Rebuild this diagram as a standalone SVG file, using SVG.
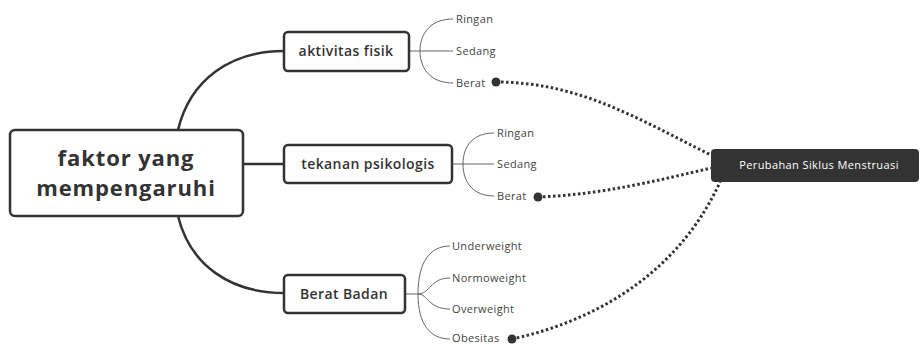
<svg xmlns="http://www.w3.org/2000/svg" width="921" height="345" viewBox="0 0 921 345">
<defs>
<style>
.box{fill:#fff;stroke:#333;stroke-width:2.5}
.main{stroke:#333;stroke-width:2.5;fill:none}
.br{stroke:#666;stroke-width:1;fill:none}
.dot{stroke:#333;stroke-width:3;fill:none;stroke-dasharray:2.5 2.5}
.t1{font-family:"Open Sans","Noto Sans",sans-serif;font-weight:700;font-size:22px;letter-spacing:0.9px;fill:#333;text-anchor:middle}
.t2{font-family:"Open Sans","Noto Sans",sans-serif;font-weight:600;font-size:14px;letter-spacing:0.4px;fill:#333;text-anchor:middle}
.t3{font-family:"Open Sans","Noto Sans",sans-serif;font-size:11px;letter-spacing:0.35px;fill:#444}
.t4{font-family:"Open Sans","Noto Sans",sans-serif;font-size:11px;letter-spacing:0.4px;fill:#fff;text-anchor:middle}
</style>
</defs>
<rect width="921" height="345" fill="#fff"/>
<g id="connectors">
<path class="main" d="M178,130 C190,80 230,51 284,51"/>
<path class="main" d="M243,164 L284,164"/>
<path class="main" d="M178,216 C190,265 230,293 284,293"/>
<path class="br" d="M409,51 L453,51 M420,51 C420,32 432,19 453,19 M420,51 C420,70 432,83 453,83"/>
<path class="br" d="M452,164 L494,164 M463,164 C463,145 474,133 494,133 M463,164 C463,183 474,196 494,196"/>
<path class="br" d="M405,294 L418,294 C430,294 430,278 450,278 M418,294 C428,294 428,309 450,309 M418,294 C418,262 430,246 450,246 M418,294 C418,324 430,339 450,339"/>
<path class="dot" d="M496,82 C580,82 640,120 711,155"/>
<path class="dot" d="M538,197 C600,195 660,180 711,168"/>
<path class="dot" d="M512,339 C600,320 680,270 720,182"/>
<circle cx="496" cy="82" r="4.5" fill="#333"/>
<circle cx="538" cy="197" r="4.5" fill="#333"/>
<circle cx="512" cy="339" r="4.5" fill="#333"/>
</g>
<g id="n-main">
<rect class="box" x="10" y="130" width="233" height="86" rx="5"/>
<text class="t1" x="126" y="166">faktor yang</text>
<text class="t1" x="126" y="196">mempengaruhi</text>
</g>
<g id="n-aktivitas">
<rect class="box" x="284" y="32" width="125" height="39" rx="4"/>
<text class="t2" x="346" y="56">aktivitas fisik</text>
</g>
<g id="n-tekanan">
<rect class="box" x="284" y="145" width="168" height="38" rx="4"/>
<text class="t2" x="368" y="169">tekanan psikologis</text>
</g>
<g id="n-berat">
<rect class="box" x="284" y="275" width="121" height="38" rx="4"/>
<text class="t2" x="344" y="299">Berat Badan</text>
</g>
<g id="n-leaves">
<text class="t3" x="456" y="23">Ringan</text>
<text class="t3" x="456" y="55">Sedang</text>
<text class="t3" x="456" y="87">Berat</text>
<text class="t3" x="497" y="137">Ringan</text>
<text class="t3" x="497" y="168">Sedang</text>
<text class="t3" x="497" y="200">Berat</text>
<text class="t3" x="452" y="250">Underweight</text>
<text class="t3" x="452" y="282">Normoweight</text>
<text class="t3" x="452" y="313">Overweight</text>
<text class="t3" x="452" y="342">Obesitas</text>
</g>
<g id="n-perubahan">
<rect x="711" y="149" width="208" height="33" rx="4" fill="#333"/>
<text class="t4" x="819" y="169">Perubahan Siklus Menstruasi</text>
</g>
</svg>
